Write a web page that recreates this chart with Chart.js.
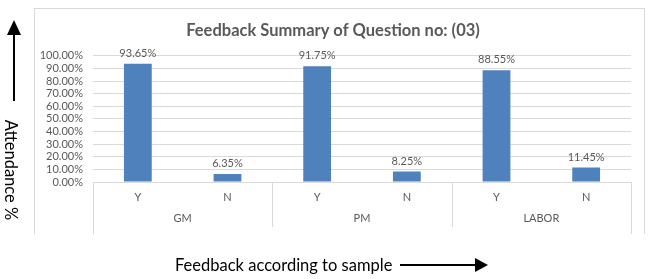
<!DOCTYPE html>
<html>
<head>
<meta charset="utf-8">
<script src="https://cdn.jsdelivr.net/npm/chart.js@4.4.1/dist/chart.umd.min.js"></script>
<style>
    html, body { margin: 0; padding: 0; background: #fff; }
    #wrap { position: relative; width: 648px; height: 279px; font-family: Lato, 'Liberation Sans', sans-serif; }
    #box { position: absolute; left: 34px; top: 8px; width: 611px; height: 226px; border: 1px solid #d9d9d9; border-bottom: none; box-sizing: border-box; }
    #chart { position: absolute; left: 0; top: 0; }
    .outer { position: absolute; white-space: nowrap; color: #000; font-size: 16.5px; }
    #yTitle { left: 11px; top: 170px; transform: translate(-50%, -50%) rotate(90deg); }
    #xTitle { left: 175px; top: 265px; transform: translateY(-50%); }
    svg { position: absolute; left: 0; top: 0; }
</style>
</head>
<body>
<div id="wrap">
    <div id="box"></div>
    <canvas id="chart" width="648" height="279"></canvas>
    <svg width="648" height="279">
        <line x1="14" y1="101" x2="14" y2="32" stroke="#000" stroke-width="2"/>
        <polygon points="7,35 21,35 14,20" fill="#000"/>
        <line x1="400" y1="265" x2="478" y2="265" stroke="#000" stroke-width="2"/>
        <polygon points="475,258 475,272 488,265" fill="#000"/>
    </svg>
    <div id="yTitle" class="outer">Attendance %</div>
    <div id="xTitle" class="outer">Feedback according to sample</div>
</div>
<script>
const groups = ['GM', 'PM', 'LABOR'];
const answers = ['Y', 'N', 'Y', 'N', 'Y', 'N'];
const feedback = [93.65, 6.35, 91.75, 8.25, 88.55, 11.45];

const textColor = '#595959';
const lineColor = '#d9d9d9';
const fontFamily = 'Lato, "Liberation Sans", sans-serif';

// value labels above each bar
const valueLabels = {
    id: 'valueLabels',
    afterDatasetsDraw(chart) {
        const ctx = chart.ctx;
        const meta = chart.getDatasetMeta(0);
        ctx.save();
        ctx.font = '11px ' + fontFamily;
        ctx.fillStyle = textColor;
        ctx.textAlign = 'center';
        ctx.textBaseline = 'bottom';
        meta.data.forEach((bar, i) => {
            ctx.fillText(feedback[i].toFixed(2) + '%', bar.x, bar.y - 5);
        });
        ctx.restore();
    }
};

// vertical separators between the group labels
const groupLines = {
    id: 'groupLines',
    afterDraw(chart) {
        const x = chart.scales.x;
        const x2 = chart.scales.x2;
        const ctx = chart.ctx;
        ctx.save();
        ctx.strokeStyle = lineColor;
        ctx.lineWidth = 1;
        ctx.beginPath();
        for (let i = 0; i <= groups.length; i++) {
            const px = Math.round(x.left + (x.right - x.left) * i / groups.length) + 0.5;
            const edge = i === 0 || i === groups.length;
            ctx.moveTo(px, x.top);
            ctx.lineTo(px, edge ? x2.bottom : x2.bottom - 7);
        }
        ctx.stroke();
        ctx.restore();
    }
};

new Chart(document.getElementById('chart').getContext('2d'), {
    type: 'bar',
    data: {
        labels: answers,
        datasets: [{
            data: feedback,
            backgroundColor: '#4f81bd',
            categoryPercentage: 1,
            barPercentage: 0.31
        }]
    },
    options: {
        responsive: false,
        animation: false,
        layout: {
            padding: { left: 35, right: 17, top: 13, bottom: 45 }
        },
        plugins: {
            legend: { display: false },
            tooltip: { enabled: false },
            title: {
                display: true,
                text: 'Feedback Summary of Question no: (03)',
                color: textColor,
                font: { family: fontFamily, size: 16.5, weight: 'bold' },
                padding: { top: 8, bottom: 15 }
            }
        },
        scales: {
            y: {
                min: 0,
                max: 100,
                ticks: {
                    stepSize: 10,
                    autoSkip: false,
                    padding: 10,
                    color: textColor,
                    font: { family: fontFamily, size: 11 },
                    callback: v => v.toFixed(2) + '%'
                },
                grid: { color: lineColor, drawTicks: false },
                border: { display: false },
                afterFit(scale) { scale.width = 58; }
            },
            x: {
                ticks: {
                    padding: 9,
                    color: textColor,
                    font: { family: fontFamily, size: 11 }
                },
                grid: { display: false, drawTicks: false },
                border: { color: lineColor },
                afterFit(scale) { scale.height = 24; }
            },
            x2: {
                type: 'category',
                labels: groups,
                position: 'bottom',
                offset: true,
                weight: 1,
                ticks: {
                    padding: 6,
                    color: textColor,
                    font: { family: fontFamily, size: 11 }
                },
                grid: { display: false, drawTicks: false },
                border: { display: false },
                afterFit(scale) { scale.height = 28; }
            }
        }
    },
    plugins: [valueLabels, groupLines]
});
</script>
</body>
</html>
